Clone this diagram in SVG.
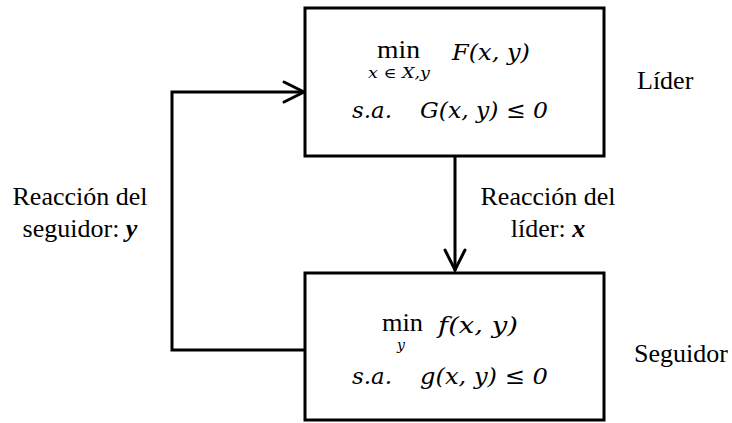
<svg xmlns="http://www.w3.org/2000/svg" width="732" height="423" viewBox="0 0 732 423">
<style>
.box{fill:#fff;stroke:#000;stroke-width:3}
.ln{fill:none;stroke:#000;stroke-width:3;stroke-linecap:round}
</style>
<rect width="732" height="423" fill="#fff"/>
<g id="connectors">
<path class="ln" d="M305,350 L172,350 L172,92 L303,92"/>
<path class="ln" d="M284,82 L304,92 L284,102"/>
<path class="ln" d="M455,157 L455,270"/>
<path class="ln" d="M445,250 L455,270 L465,250"/>
</g>
<g id="lider">
<rect class="box" x="305" y="8" width="299" height="148"/>
<text x="377" y="58" font-family="Liberation Serif, serif" font-size="26" textLength="43" lengthAdjust="spacingAndGlyphs">min</text>
<text x="368" y="78" font-family="DejaVu Serif, serif" font-style="italic" font-size="14" textLength="62" lengthAdjust="spacingAndGlyphs">x ∈ X,y</text>
<text x="452" y="60" font-family="DejaVu Serif, serif" font-style="italic" font-size="23" textLength="78" lengthAdjust="spacingAndGlyphs">F(x, y)</text>
<text x="352" y="118" font-family="DejaVu Serif, serif" font-style="italic" font-size="23" textLength="40" lengthAdjust="spacingAndGlyphs">s.a.</text>
<text x="420" y="118" font-family="DejaVu Serif, serif" font-style="italic" font-size="23" textLength="128" lengthAdjust="spacingAndGlyphs">G(x, y) ≤ 0</text>
</g>
<g id="seguidor">
<rect class="box" x="305" y="273" width="299" height="147"/>
<text x="382" y="331" font-family="Liberation Serif, serif" font-size="26" textLength="41" lengthAdjust="spacingAndGlyphs">min</text>
<text x="397" y="350" font-family="DejaVu Serif, serif" font-style="italic" font-size="14">y</text>
<text x="438" y="333" font-family="DejaVu Serif, serif" font-style="italic" font-size="23" textLength="80" lengthAdjust="spacingAndGlyphs">f(x, y)</text>
<text x="352" y="384" font-family="DejaVu Serif, serif" font-style="italic" font-size="23" textLength="40" lengthAdjust="spacingAndGlyphs">s.a.</text>
<text x="420" y="384" font-family="DejaVu Serif, serif" font-style="italic" font-size="23" textLength="128" lengthAdjust="spacingAndGlyphs">g(x, y) ≤ 0</text>
</g>
<g id="labels">
<text x="637" y="89" font-family="Liberation Serif, serif" font-size="26">Líder</text>
<text x="634" y="362" font-family="Liberation Serif, serif" font-size="26">Seguidor</text>
<text x="80" y="205" font-family="Liberation Serif, serif" font-size="26" text-anchor="middle">Reacción del</text>
<text x="80" y="237" font-family="Liberation Serif, serif" font-size="26" text-anchor="middle">seguidor: <tspan font-weight="bold" font-style="italic">y</tspan></text>
<text x="548" y="205" font-family="Liberation Serif, serif" font-size="26" text-anchor="middle">Reacción del</text>
<text x="548" y="237" font-family="Liberation Serif, serif" font-size="26" text-anchor="middle">líder: <tspan font-weight="bold" font-style="italic">x</tspan></text>
</g>
</svg>
